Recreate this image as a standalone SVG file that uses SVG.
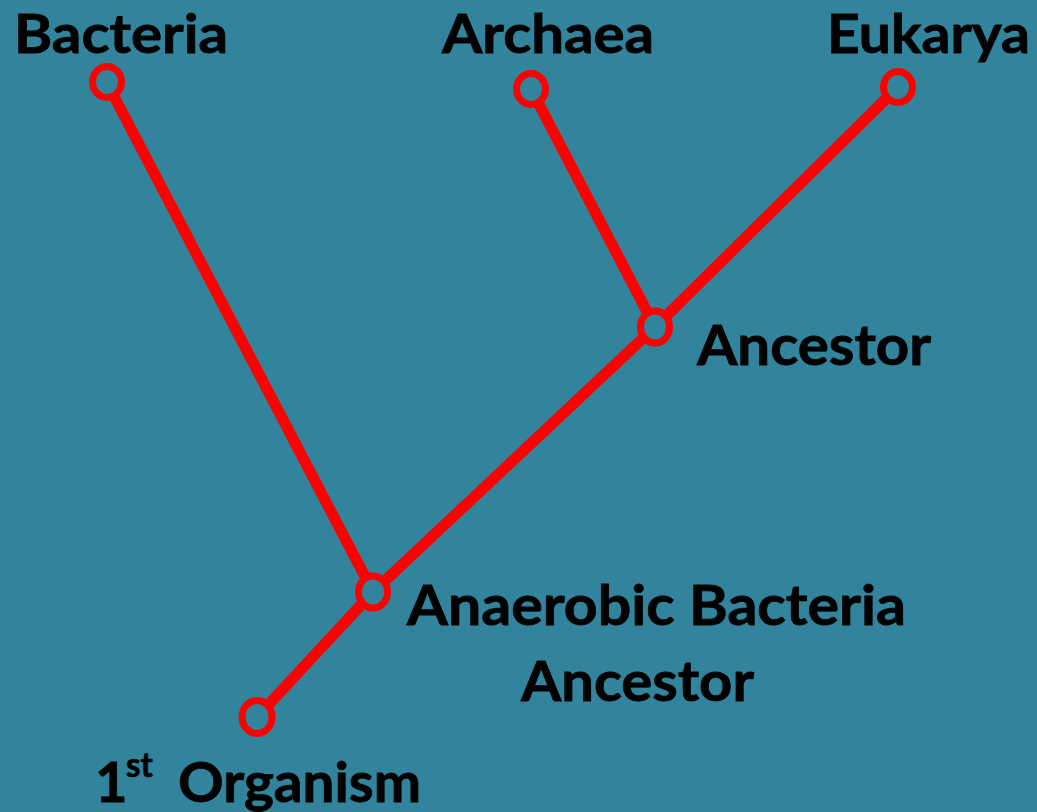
<svg xmlns="http://www.w3.org/2000/svg" width="1037" height="812" viewBox="0 0 1037 812">
<style>
.lbl{font-family:Lato,"Open Sans","Liberation Sans",sans-serif;font-weight:bold;font-size:56px;fill:#000;stroke:#000;stroke-width:0.8}
.top{font-size:53px}
.sup{font-family:Lato,"Open Sans","Liberation Sans",sans-serif;font-weight:bold;font-size:34px;fill:#000;stroke:#000;stroke-width:0.6}
.edge{stroke:#FF0000;stroke-width:11;fill:none}
.node{stroke:#FF0000;stroke-width:7;fill:#31849B}
</style>
<rect width="1037" height="812" fill="#31849B"/>
<g id="connectors">
<line class="edge" x1="107" y1="83" x2="373" y2="592"/>
<line class="edge" x1="531" y1="89" x2="655" y2="327"/>
<line class="edge" x1="898" y1="87" x2="655" y2="327"/>
<line class="edge" x1="655" y1="327" x2="373" y2="592"/>
<line class="edge" x1="373" y1="592" x2="257" y2="717"/>
</g>
<g id="bacteria">
<ellipse class="node" cx="107" cy="82" rx="14.5" ry="15.5"/>
<text class="lbl top" x="14" y="53" textLength="214" lengthAdjust="spacingAndGlyphs">Bacteria</text>
</g>
<g id="archaea">
<ellipse class="node" cx="531" cy="89" rx="14.5" ry="15.5"/>
<text class="lbl top" x="442" y="53" textLength="212" lengthAdjust="spacingAndGlyphs">Archaea</text>
</g>
<g id="eukarya">
<ellipse class="node" cx="898" cy="87" rx="14.5" ry="15.5"/>
<text class="lbl top" x="827" y="53" textLength="203" lengthAdjust="spacingAndGlyphs">Eukarya</text>
</g>
<g id="ancestor">
<ellipse class="node" cx="655" cy="327" rx="14.5" ry="16"/>
<text class="lbl" x="697" y="365" textLength="234" lengthAdjust="spacingAndGlyphs">Ancestor</text>
</g>
<g id="anaerobic">
<ellipse class="node" cx="373" cy="592" rx="14.5" ry="16"/>
<text class="lbl" x="407" y="625" textLength="499" lengthAdjust="spacingAndGlyphs">Anaerobic Bacteria</text>
<text class="lbl" x="521" y="701" textLength="233" lengthAdjust="spacingAndGlyphs">Ancestor</text>
</g>
<g id="first">
<ellipse class="node" cx="257" cy="717" rx="15" ry="16.5"/>
<text class="lbl" x="95" y="802">1</text>
<text class="sup" x="126" y="777" textLength="27" lengthAdjust="spacingAndGlyphs">st</text>
<text class="lbl" x="178" y="802" textLength="243" lengthAdjust="spacingAndGlyphs">Organism</text>
</g>
</svg>
